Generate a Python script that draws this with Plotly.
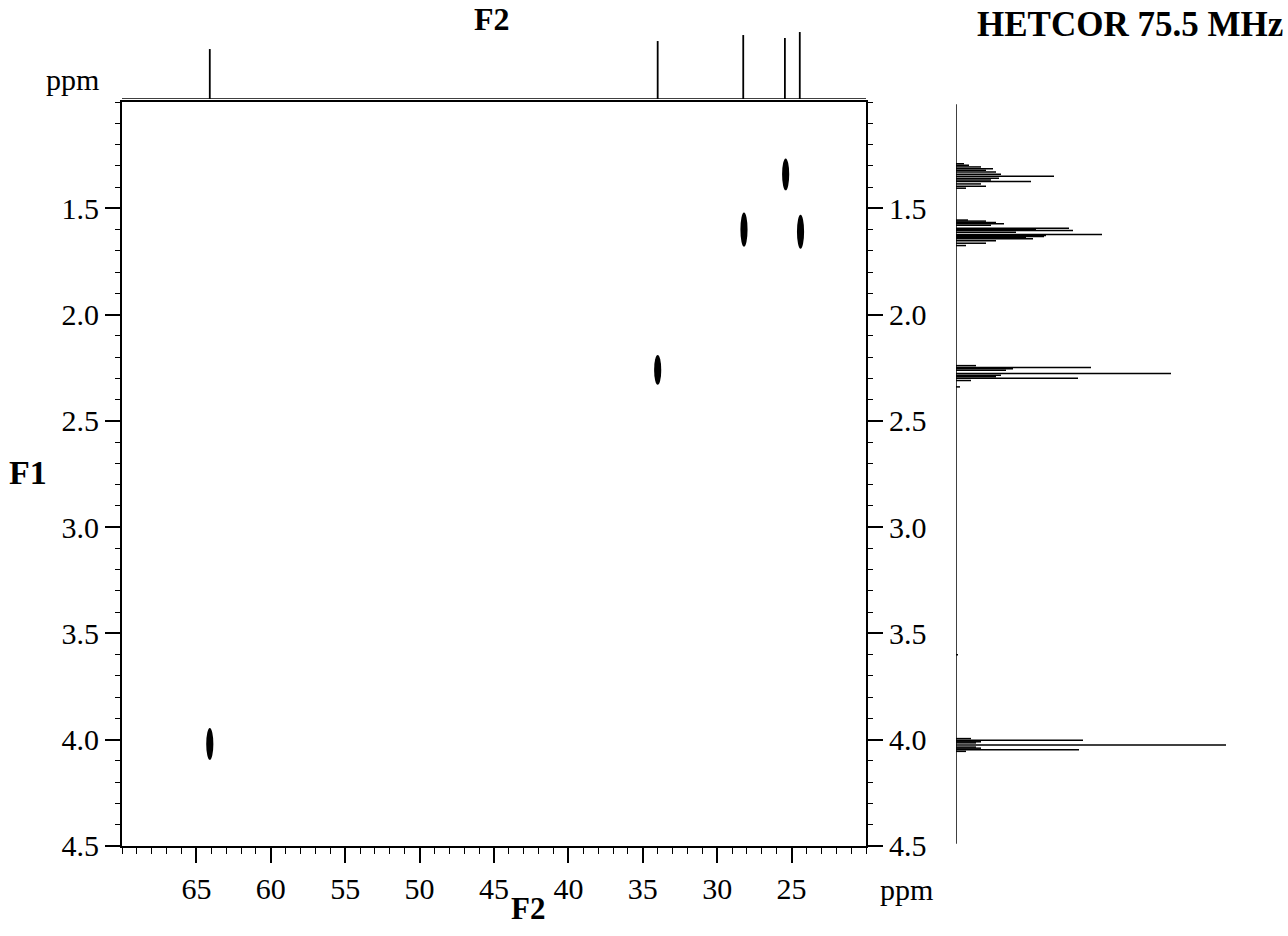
import plotly.graph_objects as go

# ---- data ----
# 13C (F2) 1D projection: shifts (ppm) and relative intensities
c13_shift = [64.1, 34.0, 28.25, 25.45, 24.45]
c13_int = [50, 58, 64, 61, 67]

# 1H (F1) 1D projection: line positions (ppm) and intensities
h1_shift = [1.290, 1.297, 1.305, 1.313, 1.321, 1.329, 1.340, 1.349, 1.358, 1.366, 1.373, 1.385, 1.396, 1.405,
            1.555, 1.560, 1.567, 1.572, 1.580, 1.593, 1.598, 1.604, 1.612, 1.623, 1.628, 1.632, 1.638, 1.643,
            1.652, 1.664, 1.675,
            2.240, 2.249, 2.255, 2.262, 2.277, 2.285, 2.292, 2.299, 2.310, 2.340,
            3.600,
            3.995, 4.003, 4.010, 4.015, 4.025, 4.035, 4.040, 4.047, 4.055]
h1_int = [8, 13, 25, 37, 30, 40, 45, 98, 43, 35, 75, 25, 30, 10,
          12, 30, 40, 48, 35, 113, 80, 117, 60, 146, 90, 88, 70, 77,
          40, 30, 10,
          20, 135, 57, 50, 215, 45, 40, 122, 15, 4,
          2,
          15, 127, 25, 20, 270, 20, 25, 123, 10]

# HETCOR cross peaks: 13C shift, 1H centre, 1H extent (ppm)
cross_c = [64.1, 34.0, 28.2, 25.4, 24.4]
cross_h = [4.02, 2.26, 1.60, 1.34, 1.61]
cross_span = [0.15, 0.14, 0.16, 0.15, 0.16]

f2_ticks = [65, 60, 55, 50, 45, 40, 35, 30, 25]
f1_ticks = [1.5, 2.0, 2.5, 3.0, 3.5, 4.0, 4.5]

# ---- layout constants (paper fractions from reference pixels) ----
W = 1288
HS = 919   # height of the drawable paper as it ends up in the photograph
FONT = "Liberation Serif"
def px_x(p):
    return p / W
def px_y(p):
    return 1 - p / HS

x_dom = [px_x(122), px_x(866)]
y_dom = [px_y(845), px_y(102)]
top_dom = [px_y(99), px_y(29)]
right_dom = [px_x(956), px_x(1256)]

fig = go.Figure()

# top 13C projection
tx, ty = [70, 20, None], [0, 0, None]
for s, v in zip(c13_shift, c13_int):
    tx += [s, s, None]
    ty += [0, v, None]
fig.add_trace(go.Scatter(x=tx, y=ty, mode="lines", line=dict(color="black", width=1.8),
                         xaxis="x2", yaxis="y2", hoverinfo="skip", showlegend=False))

# right 1H projection
rx, ry = [0, 0, None], [1.01, 4.49, None]
for s, v in zip(h1_shift, h1_int):
    rx += [0, v, None]
    ry += [s, s, None]
fig.add_trace(go.Scatter(x=rx, y=ry, mode="lines", line=dict(color="black", width=1.5),
                         xaxis="x3", yaxis="y3", hoverinfo="skip", showlegend=False))

# invisible traces to anchor main axes
fig.add_trace(go.Scatter(x=cross_c, y=cross_h, mode="markers", marker=dict(size=1, opacity=0),
                         xaxis="x", yaxis="y", hoverinfo="skip", showlegend=False))
fig.add_trace(go.Scatter(x=cross_c, y=cross_h, mode="markers", marker=dict(size=1, opacity=0),
                         xaxis="x", yaxis="y4", hoverinfo="skip", showlegend=False))

# cross peaks as filled ellipses in data coordinates
shapes = []
half_w = 0.24
for c, h, sp in zip(cross_c, cross_h, cross_span):
    shapes.append(dict(type="circle", xref="x", yref="y",
                       x0=c - half_w, x1=c + half_w, y0=h - sp / 2, y1=h + sp / 2,
                       fillcolor="black", line=dict(width=0)))

tickfont = dict(family=FONT, size=30, color="black")
common_y = dict(range=[4.5, 1.0], domain=y_dom, showgrid=False, zeroline=False,
                tickvals=f1_ticks, ticktext=[f"{v:.1f}" for v in f1_ticks],
                ticks="outside", ticklen=15, tickwidth=1.5, tickcolor="black",
                showline=True, linecolor="black", linewidth=2, tickfont=tickfont,
                minor=dict(ticks="outside", ticklen=5, tickwidth=1.2, tickcolor="black",
                           dtick=0.1, tick0=1.0, showgrid=False))

def label(text, x, y, size):
    return dict(text=text, x=px_x(x), y=px_y(y), xref="paper", yref="paper",
                xanchor="center", yanchor="middle", showarrow=False,
                font=dict(family=FONT, size=size, color="black"))

fig.update_layout(
    autosize=True, margin=dict(l=0, r=0, t=0, b=0, pad=0),
    paper_bgcolor="white", plot_bgcolor="white",
    xaxis=dict(range=[70, 20], domain=x_dom, anchor="y", showgrid=False, zeroline=False,
               tickvals=f2_ticks, ticktext=[str(v) for v in f2_ticks],
               ticks="outside", ticklen=15, tickwidth=1.5, tickcolor="black",
               showline=True, mirror=True, linecolor="black", linewidth=2, tickfont=tickfont,
               minor=dict(ticks="outside", ticklen=6, tickwidth=1.2, tickcolor="black",
                          dtick=1, tick0=20, showgrid=False)),
    yaxis=dict(anchor="x", side="left", **common_y),
    yaxis4=dict(anchor="x", overlaying="y", side="right", **common_y),
    xaxis2=dict(range=[70, 20], domain=x_dom, anchor="y2", visible=False),
    yaxis2=dict(range=[0, 70], domain=top_dom, anchor="x2", visible=False),
    xaxis3=dict(range=[0, 300], domain=right_dom, anchor="y3", visible=False),
    yaxis3=dict(range=[4.5, 1.0], domain=y_dom, anchor="x3", visible=False),
    shapes=shapes,
    annotations=[
        label("<b>F2</b>", 492, 19, 32),
        label("<b>F2</b>", 528, 908, 31),
        label("<b>F1</b>", 28, 472, 34),
        label("<b>HETCOR 75.5 MHz</b>", 1130, 24, 35),
        label("ppm", 72, 79, 30),
        label("ppm", 907, 889, 30),
    ],
)

post = ("document.body.style.margin='0';"
        "document.body.style.overflow='hidden';")

fig.write_html("out.html", config={"displayModeBar": False, "responsive": True},
               default_width="100vw",
               default_height="100vh;position:fixed;left:0;top:0",
               post_script=post)
